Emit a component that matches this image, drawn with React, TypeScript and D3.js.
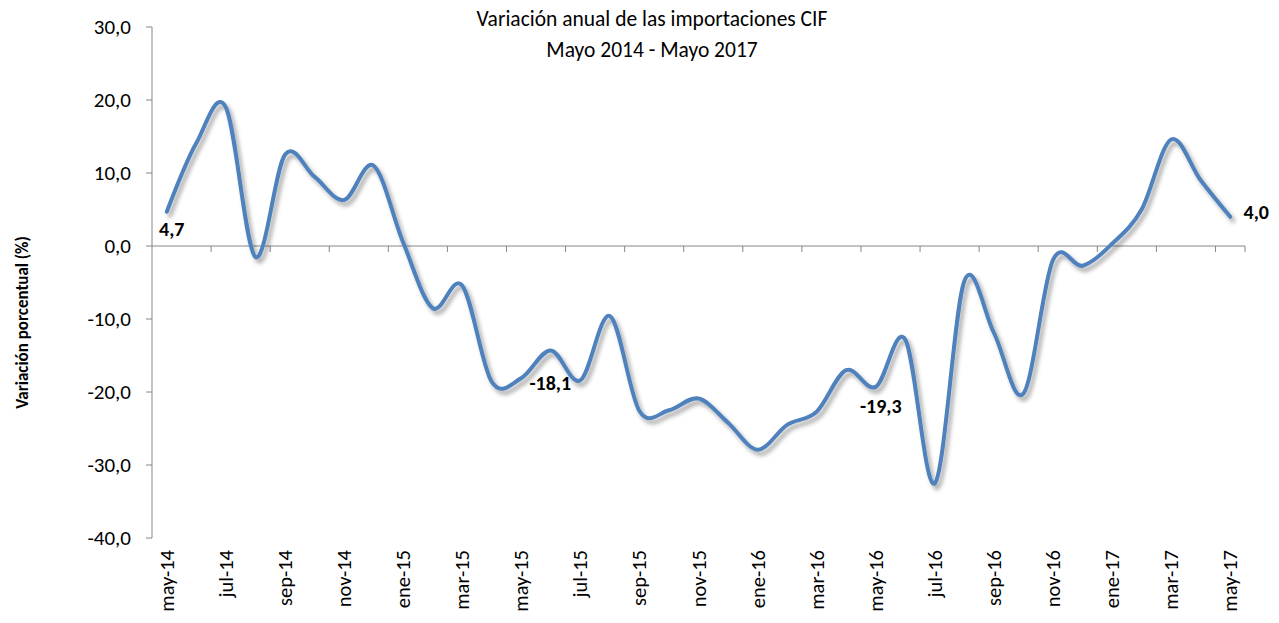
import React from 'react';
import * as d3 from 'd3';

const months = [
  'may-14', 'jun-14', 'jul-14', 'ago-14', 'sep-14', 'oct-14', 'nov-14', 'dic-14',
  'ene-15', 'feb-15', 'mar-15', 'abr-15', 'may-15', 'jun-15', 'jul-15', 'ago-15',
  'sep-15', 'oct-15', 'nov-15', 'dic-15', 'ene-16', 'feb-16', 'mar-16', 'abr-16',
  'may-16', 'jun-16', 'jul-16', 'ago-16', 'sep-16', 'oct-16', 'nov-16', 'dic-16',
  'ene-17', 'feb-17', 'mar-17', 'abr-17', 'may-17',
];

const variacion = [
  4.7, 14.1, 19.0, -1.5, 12.5, 9.5, 6.3, 11.0,
  0.5, -8.5, -5.4, -18.6, -18.1, -14.3, -18.4, -9.6,
  -22.6, -22.5, -20.9, -24.2, -27.9, -24.5, -22.7, -17.0,
  -19.3, -12.8, -32.5, -4.8, -11.9, -20.2, -1.9, -2.7,
  0.3, 5.0, 14.6, 9.0, 4.0,
];

const yTicks = [-40, -30, -20, -10, 0, 10, 20, 30];

// labelled points: index, dx, dy
const labelled = [
  { i: 0, dx: 5, dy: 24 },
  { i: 12, dx: 29, dy: 12 },
  { i: 24, dx: 5, dy: 26 },
  { i: 36, dx: 26, dy: 2 },
];

const fmt = (v: number) => v.toFixed(1).replace('.', ',');

export default function App() {
  const width = 1279;
  const height = 623;
  const left = 152;
  const right = 1245;
  const top = 27;
  const bottom = 538;

  const x = d3.scaleBand<string>().domain(months).range([left, right]);
  const y = d3.scaleLinear().domain([-40, 30]).range([bottom, top]);
  const cx = (m: string) => (x(m) as number) + x.bandwidth() / 2;

  const line = d3
    .line<number>()
    .x((_, i) => cx(months[i]))
    .y((d) => y(d))
    .curve(d3.curveCardinal.tension(0));

  const font = 'Carlito, Calibri, Lato, "Open Sans", sans-serif';
  const axisColor = '#868686';

  return (
    <svg width={width} height={height} style={{ position: 'absolute', left: 0, top: 0 }}>
      <defs>
        <filter id="shadow" x="-10%" y="-10%" width="120%" height="130%">
          <feDropShadow dx="3" dy="4" stdDeviation="2" floodColor="#000" floodOpacity="0.35" />
        </filter>
      </defs>
      <rect width={width} height={height} fill="#fff" />

      <text x={652} y={26} textAnchor="middle" fontFamily={font} fontSize={21.5} fill="#000">
        Variación anual de las importaciones CIF
      </text>
      <text x={652} y={57} textAnchor="middle" fontFamily={font} fontSize={21.5} fill="#000">
        Mayo 2014 - Mayo 2017
      </text>

      <text
        transform={`translate(28,${(top + bottom) / 2 + 40}) rotate(-90)`}
        textAnchor="middle"
        fontFamily={font}
        fontSize={17}
        fontWeight="bold"
        fill="#000"
      >
        Variación porcentual (%)
      </text>

      {/* y axis */}
      <line x1={left} x2={left} y1={top} y2={bottom} stroke={axisColor} />
      {yTicks.map((t) => (
        <g key={t}>
          <line x1={left - 6} x2={left} y1={y(t)} y2={y(t)} stroke={axisColor} />
          <text x={131} y={y(t) + 7} textAnchor="end" fontFamily={font} fontSize={21} fill="#000">
            {fmt(t)}
          </text>
        </g>
      ))}

      {/* x axis at zero */}
      <line x1={left} x2={right} y1={y(0)} y2={y(0)} stroke={axisColor} />
      {months.map((m, i) =>
        i % 2 === 0 && i > 0 ? (
          <line key={m} x1={x(m) as number} x2={x(m) as number} y1={y(0)} y2={y(0) + 6} stroke={axisColor} />
        ) : null
      )}
      <line x1={right} x2={right} y1={y(0)} y2={y(0) + 6} stroke={axisColor} />

      {months.map((m, i) =>
        i % 2 === 0 ? (
          <text
            key={m}
            transform={`translate(${cx(m) + 7},${bottom + 12}) rotate(-90)`}
            textAnchor="end"
            fontFamily={font}
            fontSize={20.5}
            fill="#000"
          >
            {m}
          </text>
        ) : null
      )}

      <path
        d={line(variacion) || ''}
        fill="none"
        stroke="#4F81BD"
        strokeWidth={4}
        strokeLinecap="round"
        strokeLinejoin="round"
        filter="url(#shadow)"
      />

      {labelled.map((l) => (
        <text
          key={l.i}
          x={cx(months[l.i]) + l.dx}
          y={y(variacion[l.i]) + l.dy}
          textAnchor="middle"
          fontFamily={font}
          fontSize={20}
          fontWeight="bold"
          fill="#000"
        >
          {fmt(variacion[l.i])}
        </text>
      ))}
    </svg>
  );
}
